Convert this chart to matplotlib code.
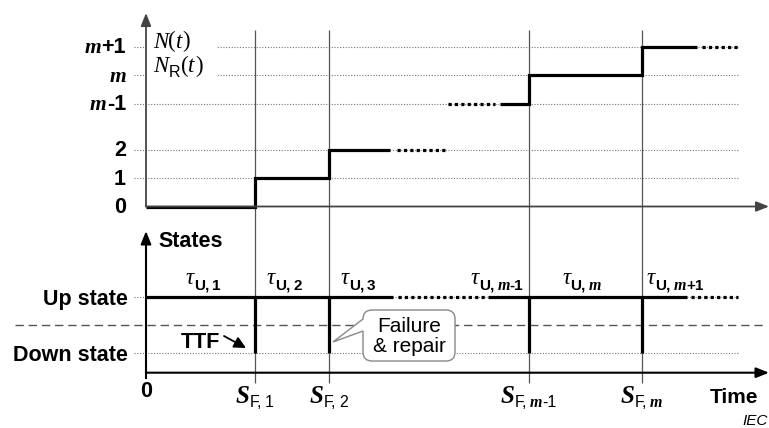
import matplotlib
matplotlib.use('Agg')
import matplotlib.pyplot as plt
from matplotlib.transforms import offset_copy, blended_transform_factory
from matplotlib.path import Path
from matplotlib.patches import PathPatch, Rectangle

# ---------------- data ----------------
count_levels = [0, 1, 2, 3.6, 4.6, 5.6]          # vertical position of each count level
count_tick_labels = ['0', '1', '2', 'm-1', 'm', 'm+1']
failure_times = [1.47, 2.47, 5.17, 6.70]          # S_F,i
failure_labels = ['1', '2', 'm-1', 'm']
# N(t) staircase (solid parts) and continuation (dotted parts)
step1_t = [0, 1.47, 2.47, 3.30]
step1_n = [0, 1, 2, 2]
step2_t = [4.78, 5.17, 6.70, 7.44]
step2_n = [3.6, 4.6, 5.6, 5.6]
dots_t = [[3.39, 4.05], [4.08, 4.72], [7.52, 8.00]]
dots_n = [2, 3.6, 5.6]
# state diagram (1 = up, 0 = down)
up_solid_t = [[0, 3.34], [4.62, 7.31]]
up_dots_t = [[3.40, 4.58], [7.37, 8.00]]
tau_t = [0.77, 1.865, 2.865, 4.743, 5.89, 7.15]
tau_labels = ['1', '2', '3', 'm-1', 'm', 'm+1']

# ---------------- layout ----------------
W, H = 769, 428
fig = plt.figure(figsize=(W / 100, H / 100), dpi=100)
X0, XS = 146.0, 74.0
Y0N, YSN = 206.5, 28.5
Y0S, YSS = 353.0, 56.3

ax1 = fig.add_axes([0, 0, 1, 1], zorder=1)
ax1.set_xlim(-X0 / XS, (W - X0) / XS)
ax1.set_ylim((Y0N - H) / YSN, Y0N / YSN)
ax2 = fig.add_axes([0, 0, 1, 1], zorder=2)
ax2.set_xlim(-X0 / XS, (W - X0) / XS)
ax2.set_ylim((Y0S - H) / YSS, Y0S / YSS)
axp = fig.add_axes([0, 0, 1, 1], zorder=3)
axp.set_xlim(0, W)
axp.set_ylim(H, 0)
for a in (ax1, ax2, axp):
    a.axis('off')

def tx(px):
    return (px - X0) / XS

SANS_B = dict(family='Liberation Sans', weight='bold', size=15.5)
SANS = dict(family='Liberation Sans', size=15)
SERIF_BI = dict(family='Liberation Serif', weight='bold', style='italic', size=15.5)
SERIF_I = dict(family='Liberation Serif', style='italic', size=16.5)
SERIF = dict(family='Liberation Serif', size=16.5)
SUB = dict(family='Liberation Sans', size=11.5)
SUB_B = dict(family='Liberation Sans', weight='bold', size=11)
SUB_MI = dict(family='Liberation Serif', weight='bold', style='italic', size=11.5)
S_BI = dict(family='Liberation Serif', weight='bold', style='italic', size=18)

renderer = fig.canvas.get_renderer()

def rich(trans, x, y, parts, ha='left', dx=0, dy=0, zorder=5):
    widths = []
    for p in parts:
        if isinstance(p, (int, float)):
            widths.append(p)
            continue
        t = fig.text(0, 0, p[0], **p[1])
        widths.append(t.get_window_extent(renderer).width)
        t.remove()
    total = sum(widths)
    cur = {'left': 0, 'center': -total / 2, 'right': -total}[ha] + dx
    for p, w in zip(parts, widths):
        if not isinstance(p, (int, float)):
            off = p[2] if len(p) > 2 else 0
            tr = offset_copy(trans, fig=fig, x=cur, y=dy + off, units='dots')
            axp.text(x, y, p[0], transform=tr, ha='left', va='baseline',
                     zorder=zorder, **p[1])
        cur += w

def sub_parts(prefix, lab, fsub=SUB, fm=SUB_MI, off=-5):
    parts = [(prefix + ',', fsub, off), 3]
    if lab.startswith('m'):
        parts.append(('m', fm, off))
        if len(lab) > 1:
            parts.append((lab[1:], fsub, off))
    else:
        parts.append((lab, fsub, off))
    return parts

# ---------------- top panel: N(t) ----------------
grid_kw = dict(color='#777777', lw=0.8, linestyle=(0, (1, 1.5)), zorder=1)
ax1.hlines(count_levels[1:], tx(134), tx(739), **grid_kw)
ax1.add_patch(Rectangle((tx(147.5), (Y0N - 80) / YSN), tx(217) - tx(147.5),
                        (80 - 30) / YSN, facecolor='white', edgecolor='none', zorder=2))
ax1.vlines(failure_times, (Y0N - 383) / YSN, (Y0N - 30) / YSN,
           color='#555555', lw=0.9, zorder=2)
line_kw = dict(color='black', lw=2.3, solid_capstyle='butt', solid_joinstyle='miter', zorder=4)
ax1.plot(step1_t, step1_n, drawstyle='steps-post', **line_kw)
ax1.plot(step2_t, step2_n, drawstyle='steps-post', **line_kw)
dot_kw = dict(color='black', lw=2.3, linestyle=(0, (1, 1)), dash_capstyle='butt', zorder=4)
for ts, n in zip(dots_t, dots_n):
    ax1.plot(ts, [n, n], **dot_kw)

tr_tick = blended_transform_factory(axp.transData, ax1.transData)
for lev, lab in zip(count_levels, count_tick_labels):
    if lab.startswith('m'):
        parts = [('m', SERIF_BI)]
        if len(lab) > 1:
            parts.append((lab[1:], SANS_B))
    else:
        parts = [(lab, SANS_B)]
    rich(tr_tick, 126, lev, parts, ha='right', dy=-6.5)

rich(axp.transData, 153, 47.5, [('N', SERIF_I), ('(', SERIF), ('t', SERIF_I), (')', SERIF)])
rich(axp.transData, 153, 71.7, [('N', SERIF_I), ('R', SUB, -5), 1, ('(', SERIF),
                                ('t', SERIF_I), (')', SERIF)])

# axes arrows (top)
arr = dict(arrowstyle='-|>,head_length=0.55,head_width=0.22', color='#444444', lw=1.3,
           shrinkA=0, shrinkB=0, mutation_scale=14)
axp.annotate('', xy=(146, 13), xytext=(146, 206.5), arrowprops=arr)
axp.annotate('', xy=(769, 206.5), xytext=(146, 206.5), arrowprops=arr)

# ---------------- bottom panel: states ----------------
ax2.hlines([0, 1], tx(134), tx(739), **grid_kw)
ax2.hlines(0.5, tx(15), tx(766), color='#555555', lw=1.0, linestyle=(0, (6, 3.5)), zorder=1)
for ts in up_solid_t:
    ax2.plot(ts, [1, 1], **line_kw)
for ts in up_dots_t:
    ax2.plot(ts, [1, 1], **dot_kw)
ax2.vlines(failure_times, 0, 1, color='black', lw=2.3, zorder=4)

arr2 = dict(arr, color='black', lw=1.5)
axp.annotate('', xy=(146, 231), xytext=(146, 372.7), arrowprops=arr2)
axp.annotate('', xy=(769, 372.7), xytext=(146, 372.7), arrowprops=arr2)
axp.plot([146, 146], [372.7, 378], color='black', lw=1.5)

axp.text(158, 246.5, 'States', ha='left', va='baseline', **SANS_B)
axp.text(128, 296.7, 'Up state', ha='right', va='center_baseline', **SANS_B)
axp.text(128, 353, 'Down state', ha='right', va='center_baseline', **SANS_B)
axp.text(146.5, 397, '0', ha='center', va='baseline', **SANS_B)
axp.text(710, 403, 'Time', ha='left', va='baseline', **dict(SANS_B, size=15))
axp.text(768, 425, 'IEC', ha='right', va='baseline', family='Liberation Sans',
         style='italic', size=11)

# TTF
axp.text(181, 348.5, 'TTF', ha='left', va='baseline', **SANS_B)
axp.annotate('', xy=(246, 348), xytext=(224, 336),
             arrowprops=dict(arrowstyle='-|>,head_length=0.5,head_width=0.25', color='black',
                             lw=1.3, shrinkA=0, shrinkB=0, mutation_scale=14))

# tau labels
tr_tau = blended_transform_factory(ax2.transData, axp.transData)
for t, lab in zip(tau_t, tau_labels):
    rich(tr_tau, t, 284, [('\u03c4', SERIF_I)] + sub_parts('U', lab, fsub=SUB_B, off=-5.5),
         ha='center')

# S_F labels
for t, lab in zip(failure_times, failure_labels):
    rich(tr_tau, t, 403, [('S', S_BI)] + sub_parts('F', lab, off=-4), ha='center')

# callout
x0, x1, y0, y1, r = 363, 455, 310, 361, 9
tip = (333, 342)
verts = [(x0 + r, y0), (x1 - r, y0), (x1, y0), (x1, y0 + r), (x1, y1 - r), (x1, y1),
         (x1 - r, y1), (x0 + r, y1), (x0, y1), (x0, y1 - r), (x0, 331), tip,
         (x0, y0 + r), (x0, y0), (x0 + r, y0), (x0 + r, y0)]
codes = [Path.MOVETO, Path.LINETO, Path.CURVE3, Path.CURVE3, Path.LINETO, Path.CURVE3,
         Path.CURVE3, Path.LINETO, Path.CURVE3, Path.CURVE3, Path.LINETO, Path.LINETO,
         Path.LINETO, Path.CURVE3, Path.CURVE3, Path.CLOSEPOLY]
axp.add_patch(PathPatch(Path(verts, codes), facecolor='white', edgecolor='#888888',
                        lw=1.0, zorder=4))
axp.text(409.5, 331.5, 'Failure', ha='center', va='baseline', zorder=5, **SANS)
axp.text(409.5, 352.5, '& repair', ha='center', va='baseline', zorder=5, **SANS)

fig.savefig('out.png', dpi=100)
